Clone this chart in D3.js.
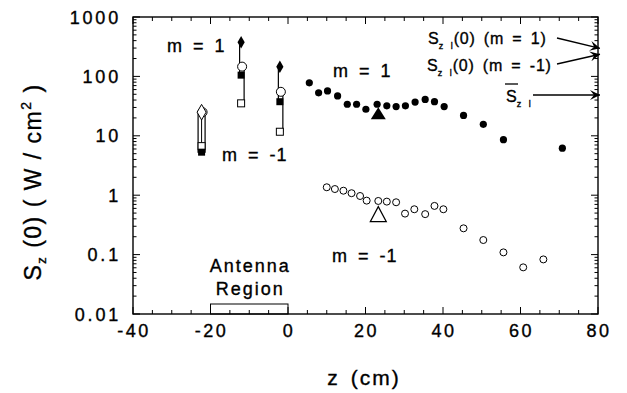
<!DOCTYPE html>
<html><head><meta charset="utf-8">
<script src="https://cdn.jsdelivr.net/npm/d3@7"></script>
<style>body{margin:0;background:#fff}svg{display:block;font-family:"Liberation Sans",Arial,sans-serif}
text{stroke:#000;stroke-width:0.35px;fill:#000}</style>
</head><body><svg id="c" width="627" height="393"></svg>
<script>
// m = 1 (filled circles)
const zM1 = [5.5, 7.9, 10.2, 12.8, 15.3, 17.7, 20.1, 23.0, 25.5, 27.9, 30.3, 32.8, 35.4, 37.8, 40.3, 45.3, 50.4, 55.6, 70.8];
const sM1 = [78, 53, 57, 47, 34, 34, 28, 34, 32, 31, 32, 37, 41, 37.5, 31, 22, 15.6, 8.6, 6.2];
// m = -1 (open circles)
const zMm1 = [10.0, 12.1, 14.3, 16.4, 18.6, 20.3, 23.3, 25.5, 27.9, 30.2, 32.6, 35.4, 37.8, 40.1, 45.3, 50.4, 55.6, 60.7, 65.9];
const sMm1 = [1.36, 1.27, 1.19, 1.08, 0.97, 0.81, 0.80, 0.78, 0.76, 0.49, 0.58, 0.48, 0.66, 0.58, 0.277, 0.176, 0.109, 0.061, 0.083];
// triangles (averages)
const triZ = [23.3];
const triM1 = [24];
const triMm1 = [0.48];
// antenna-region measurements
const zAnt = [-22.3, -12.1, -2.1];
const antDiamond = [null, 375, 146];
const antOpenCircle = [25, 146, 55];
const antFilledSquare = [5.3, 105, 37.5];
const antOpenSquare = [6.7, 35.2, 11.7];
// edge values indicated by arrows
const edgeLabels = ["(0)  (m = 1)", "(0)  (m = -1)", ""];
const edgeValues = [297, 236, 48.6];
// axes
const xTicks = [-40, -20, 0, 20, 40, 60, 80];
const yTicks = [0.01, 0.1, 1, 10, 100, 1000];
const yTickLabels = ["0.01", "0.1", "1", "10", "100", "1000"];
const antennaRegion = [-20, 0];

const svg = d3.select("#c");
const L = 133, R = 598, T = 17, B = 314;
const x = d3.scaleLinear().domain([-40, 80]).range([L, R]);
const y = d3.scaleLog().domain([0.01, 1000]).range([B, T]);
const g = svg.append("g");

// frame
g.append("rect").attr("x", L).attr("y", T).attr("width", R - L).attr("height", B - T)
  .attr("fill", "none").attr("stroke", "#000").attr("stroke-width", 1.4);

// x ticks
const xMinor = d3.range(-40, 81, 5);
xMinor.forEach(v => {
  const len = (v % 20 === 0) ? 7 : 4;
  g.append("line").attr("x1", x(v)).attr("x2", x(v)).attr("y1", B).attr("y2", B - len).attr("stroke", "#000");
  g.append("line").attr("x1", x(v)).attr("x2", x(v)).attr("y1", T).attr("y2", T + len).attr("stroke", "#000");
});
xTicks.forEach(v => {
  g.append("text").attr("x", x(v) + 1).attr("y", 337).attr("text-anchor", "middle")
    .attr("font-size", 18).attr("letter-spacing", 2.5).text(v);
});
// y ticks
const yMinor = [];
for (let e = -2; e < 3; e++) for (let k = 1; k < 10; k++) yMinor.push(k * Math.pow(10, e));
yMinor.push(1000);
yMinor.forEach(v => {
  const major = Math.abs(Math.log10(v) - Math.round(Math.log10(v))) < 1e-9;
  const len = major ? 7 : 3.5;
  g.append("line").attr("x1", L).attr("x2", L + len).attr("y1", y(v)).attr("y2", y(v)).attr("stroke", "#000");
  g.append("line").attr("x1", R).attr("x2", R - len).attr("y1", y(v)).attr("y2", y(v)).attr("stroke", "#000");
});
yTicks.forEach((v, i) => {
  g.append("text").attr("x", 121).attr("y", y(v) + 6.5).attr("text-anchor", "end")
    .attr("font-size", 18).attr("letter-spacing", 2.8).text(yTickLabels[i]);
});

// axis titles
g.append("text").attr("x", 364).attr("y", 385).attr("text-anchor", "middle")
  .attr("font-size", 21).attr("letter-spacing", 2).attr("word-spacing", 3).text("z (cm)");
const yl = g.append("text").attr("transform", "translate(41,182) rotate(-90)")
  .attr("text-anchor", "middle").attr("font-size", 23).attr("letter-spacing", 1.5);
yl.append("tspan").text("S");
yl.append("tspan").attr("font-size", 13).attr("dy", 5).text("z");
yl.append("tspan").attr("dy", -5).text(" (0) ( W / cm");
yl.append("tspan").attr("font-size", 14).attr("dy", -10).text("2");
yl.append("tspan").attr("dy", 10).text(" )");

// antenna region
g.append("rect").attr("x", x(antennaRegion[0])).attr("y", 304)
  .attr("width", x(antennaRegion[1]) - x(antennaRegion[0])).attr("height", B - 304)
  .attr("fill", "none").attr("stroke", "#000").attr("stroke-width", 1);
g.append("text").attr("x", x(-10) + 1).attr("y", 272).attr("text-anchor", "middle").attr("font-size", 18).attr("letter-spacing", 2).text("Antenna");
g.append("text").attr("x", x(-10) + 1).attr("y", 295).attr("text-anchor", "middle").attr("font-size", 18).attr("letter-spacing", 2).text("Region");

// data m=1
g.selectAll(".f").data(zM1).join("circle").attr("cx", d => x(d)).attr("cy", (d, i) => y(sM1[i]))
  .attr("r", 3.6).attr("fill", "#000");
g.selectAll(".o").data(zMm1).join("circle").attr("cx", d => x(d)).attr("cy", (d, i) => y(sMm1[i]))
  .attr("r", 3.5).attr("fill", "none").attr("stroke", "#000").attr("stroke-width", 1);
// triangles
const triPath = (cx, cy, w, h) => `M${cx},${cy - h / 2}L${cx + w / 2},${cy + h / 2}L${cx - w / 2},${cy + h / 2}Z`;
triZ.forEach((z, i) => {
  g.append("path").attr("d", triPath(x(z), y(triM1[i]), 15, 12)).attr("fill", "#000");
  g.append("path").attr("d", triPath(x(z), y(triMm1[i]), 16, 15)).attr("fill", "#fff").attr("stroke", "#000").attr("stroke-width", 1.2);
});

// antenna region clusters
zAnt.forEach((z, i) => {
  const cx = x(z);
  if (i === 0) {
    g.append("rect").attr("x", cx - 3.5).attr("y", y(antOpenCircle[i]))
      .attr("width", 7).attr("height", y(antFilledSquare[i]) - y(antOpenCircle[i]))
      .attr("fill", "none").attr("stroke", "#000").attr("stroke-width", 1.2);
    g.append("line").attr("x1", cx).attr("x2", cx).attr("y1", y(antOpenCircle[i])).attr("y2", y(antFilledSquare[i])).attr("stroke", "#000");
  } else {
    g.append("line").attr("x1", cx - 1.5).attr("x2", cx - 1.5).attr("y1", y(antDiamond[i])).attr("y2", y(antFilledSquare[i])).attr("stroke", "#000").attr("stroke-width", 1.2);
    g.append("line").attr("x1", cx + 3).attr("x2", cx + 3).attr("y1", y(antOpenCircle[i])).attr("y2", y(antOpenSquare[i])).attr("stroke", "#000").attr("stroke-width", 1.2);
  }
  const os = y(antOpenSquare[i]);
  g.append("rect").attr("x", cx - 3.5).attr("y", os - 3.5).attr("width", 7).attr("height", 7)
    .attr("fill", "#fff").attr("stroke", "#000").attr("stroke-width", 1);
  g.append("circle").attr("cx", cx + 1).attr("cy", y(antOpenCircle[i])).attr("r", 4.5)
    .attr("fill", "#fff").attr("stroke", "#000").attr("stroke-width", 1);
  if (i === 0) {
    g.append("path").attr("d", d3.symbol(d3.symbolDiamond, 70)()).attr("transform", `translate(${cx},${y(antOpenCircle[i])})`)
      .attr("fill", "#fff").attr("stroke", "#000").attr("stroke-width", 1);
  }
  const fs = y(antFilledSquare[i]);
  g.append("rect").attr("x", cx - 3.5).attr("y", fs - 3.5).attr("width", 7).attr("height", 7).attr("fill", "#000");
  if (antDiamond[i] != null) {
    g.append("path").attr("d", d3.symbol(d3.symbolDiamond, 45)()).attr("transform", `translate(${cx},${y(antDiamond[i])})`)
      .attr("fill", "#000");
  }
});

// annotations
const ann = [[167, 52, "m = 1"], [222, 161, "m = -1"], [333, 77, "m = 1"], [332, 262, "m = -1"]];
ann.forEach(a => g.append("text").attr("x", a[0]).attr("y", a[1]).attr("font-size", 18)
  .attr("letter-spacing", 1).attr("word-spacing", 4).text(a[2]));

// edge arrows
const defs = svg.append("defs");
defs.append("marker").attr("id", "ah").attr("viewBox", "0 0 10 10").attr("refX", 10).attr("refY", 5)
  .attr("markerWidth", 10).attr("markerHeight", 10).attr("orient", "auto").attr("markerUnits", "userSpaceOnUse")
  .append("path").attr("d", "M0,0L10,5L0,10L4,5Z").attr("fill", "#000");
const labY = [38, 64, 95];
const startX = [557, 557, 533];
edgeValues.forEach((v, i) => {
  g.append("line").attr("x1", startX[i]).attr("y1", labY[i]).attr("x2", R + 2).attr("y2", y(v))
    .attr("stroke", "#000").attr("stroke-width", 1.3).attr("marker-end", "url(#ah)");
});
function sLabel(xp, yp, rest) {
  const t = g.append("text").attr("x", xp).attr("y", yp).attr("font-size", 16).attr("word-spacing", 3);
  t.append("tspan").text("S");
  t.append("tspan").attr("font-size", 9).attr("dy", 5).attr("letter-spacing", 1).text("z l");
  if (rest) t.append("tspan").attr("dy", -5).attr("letter-spacing", 0.8).text(rest);
}
sLabel(428, 44, edgeLabels[0]);
sLabel(427, 71, edgeLabels[1]);
sLabel(506, 102, edgeLabels[2]);
g.append("line").attr("x1", 505).attr("x2", 518).attr("y1", 84).attr("y2", 84).attr("stroke", "#000").attr("stroke-width", 1.3);
</script></body></html>
